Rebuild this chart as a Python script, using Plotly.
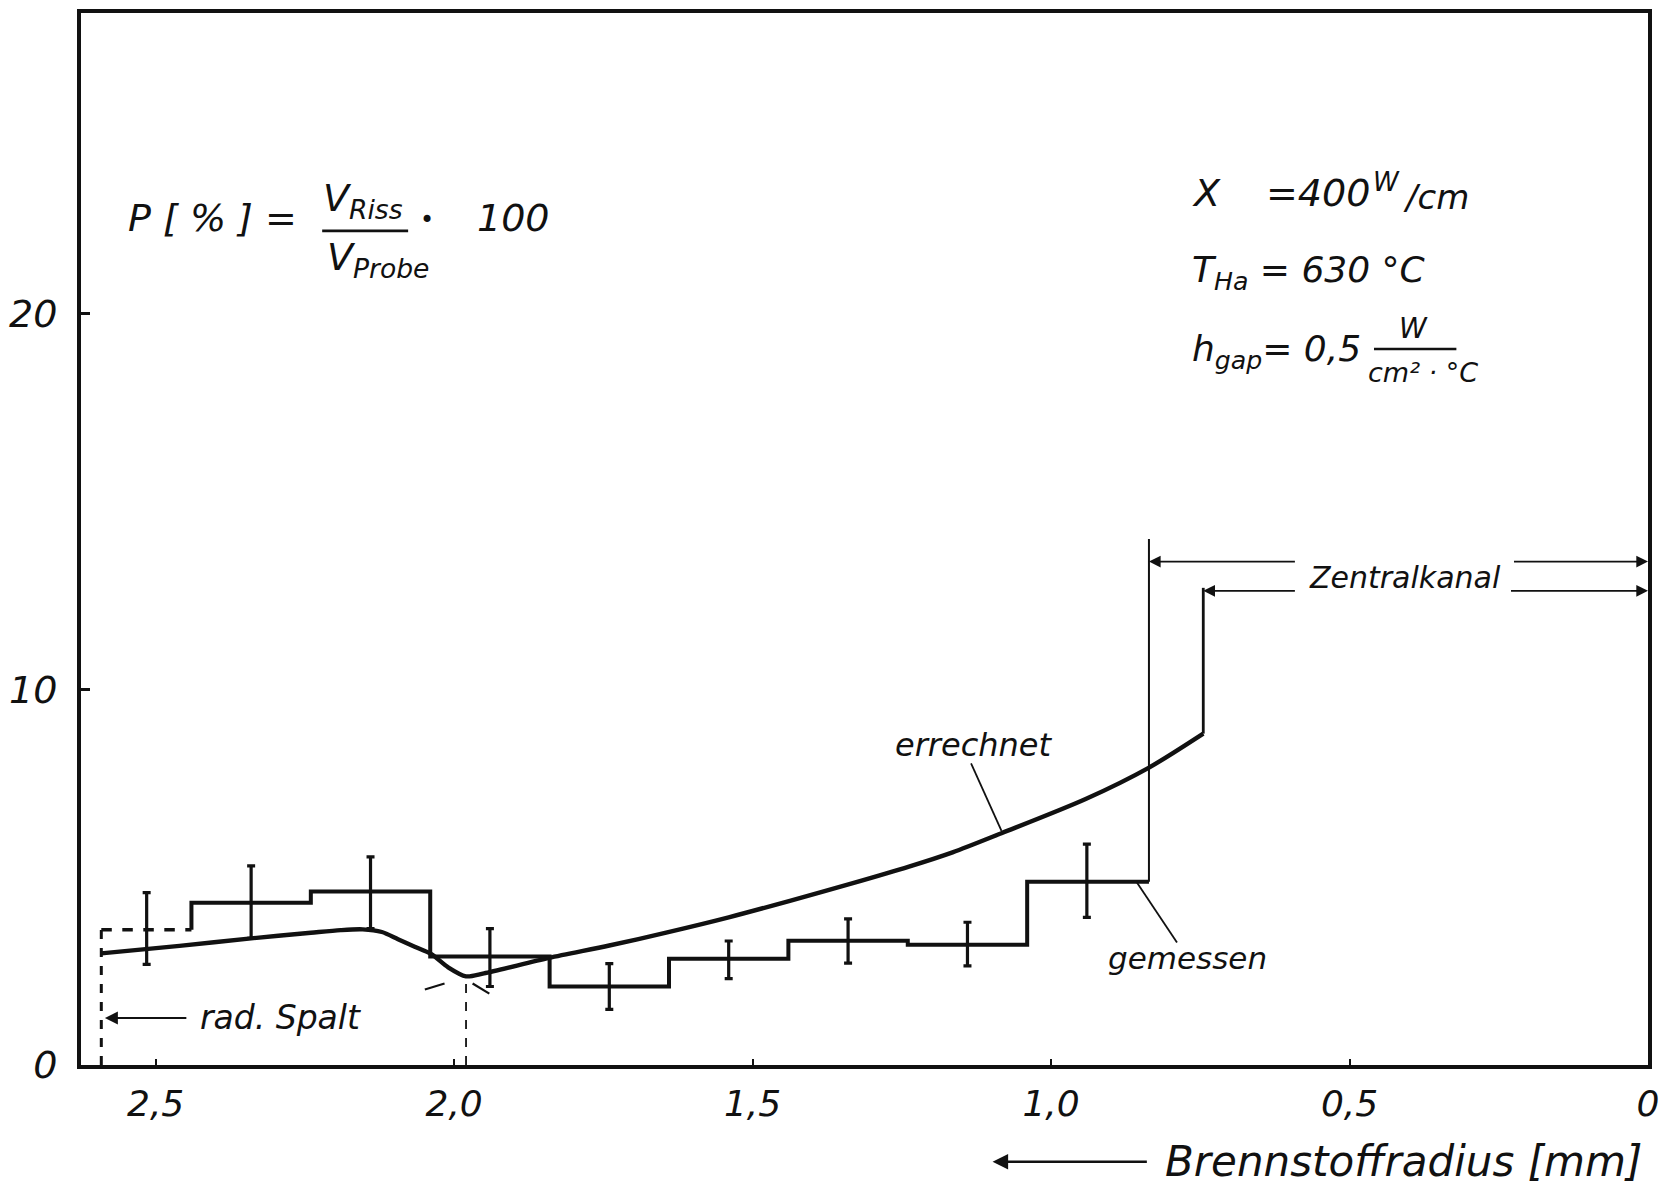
import plotly.graph_objects as go

# --- measured crack porosity (histogram over 0.2 mm radial rings) ---
gap_edge = 2.591           # outer fuel radius (radial gap)
bin_edges = [2.44, 2.24, 2.04, 1.84, 1.64, 1.44, 1.24, 1.04, 0.836]
measured = [4.32, 4.62, 2.89, 2.09, 2.83, 3.31, 3.2, 4.88]
outer_ring = 3.6           # dashed outermost ring

# error bars of the measurement
err_x = [2.515, 2.34, 2.14, 1.94, 1.74, 1.54, 1.34, 1.14, 0.94]
err_y = [3.635, 4.335, 4.585, 2.86, 2.09, 2.80, 3.30, 3.22, 4.905]
err_d = [0.955, 0.965, 0.955, 0.77, 0.61, 0.50, 0.59, 0.58, 0.975]

# --- calculated crack porosity ---
calc_x = [2.591, 2.46, 2.34, 2.24, 2.19, 2.153, 2.121, 2.094, 2.066, 2.038, 2.01, 1.98, 1.95,
          1.841, 1.74, 1.643, 1.54, 1.4375, 1.332, 1.238, 1.165, 1.083, 0.942, 0.8366, 0.745]
calc_y = [2.97, 3.17, 3.37, 3.52, 3.59, 3.61, 3.54, 3.35, 3.15, 2.95, 2.6, 2.36, 2.44,
          2.85, 3.18, 3.53, 3.93, 4.37, 4.84, 5.28, 5.66, 6.17, 7.08, 7.91, 8.82]

# central channel boundaries
channel_meas = 0.836
channel_calc = 0.745
channel_meas_top = 14.0
channel_calc_top = 12.7
channel_arrow_y = [13.4, 12.62]
min_r = 1.98

x_ticks = [2.5, 2.0, 1.5, 1.0, 0.5, 0.0]
x_labels = ["2,5", "2,0", "1,5", "1,0", "0,5", "0"]
y_ticks = [0, 10, 20]
y_labels = ["0", "10", "20"]

FONT = "DejaVu Sans"
INK = "#111111"

fig = go.Figure()

# dashed outermost ring and radial gap marker
fig.add_trace(go.Scatter(x=[gap_edge, bin_edges[0]], y=[outer_ring, outer_ring], mode="lines",
                         line=dict(color=INK, width=3.5, dash="dash")))
fig.add_trace(go.Scatter(x=[gap_edge, gap_edge], y=[0, outer_ring], mode="lines",
                         line=dict(color=INK, width=3, dash="dash")))

# measured histogram
hx = [bin_edges[0]] + bin_edges
hy = [outer_ring] + measured + [measured[-1]]
fig.add_trace(go.Scatter(x=hx, y=hy, mode="lines", line=dict(color=INK, width=4, shape="hv")))

# error bars
fig.add_trace(go.Scatter(x=err_x, y=err_y, mode="markers", marker=dict(size=1, color=INK),
                         error_y=dict(type="data", array=err_d, color=INK, thickness=3.2, width=4)))

# calculated curve
fig.add_trace(go.Scatter(x=calc_x, y=calc_y, mode="lines",
                         line=dict(color=INK, width=4.4, shape="spline", smoothing=0.8)))

# central channel verticals
fig.add_trace(go.Scatter(x=[channel_meas, channel_meas], y=[measured[-1], channel_meas_top], mode="lines",
                         line=dict(color=INK, width=2)))
fig.add_trace(go.Scatter(x=[channel_calc, channel_calc], y=[calc_y[-1], channel_calc_top], mode="lines",
                         line=dict(color=INK, width=2.8)))

# construction lines at the minimum of the calculated curve
fig.add_trace(go.Scatter(x=[min_r, min_r], y=[0, 2.3], mode="lines",
                         line=dict(color=INK, width=1.8, dash="dash")))
fig.add_trace(go.Scatter(x=[2.049, 2.016], y=[2.01, 2.17], mode="lines", line=dict(color=INK, width=2.2)))
fig.add_trace(go.Scatter(x=[1.969, 1.941], y=[2.17, 1.90], mode="lines", line=dict(color=INK, width=2.2)))

# leader lines for the labels
fig.add_trace(go.Scatter(x=[1.134, 1.083], y=[8.03, 6.23], mode="lines", line=dict(color=INK, width=1.8)))
fig.add_trace(go.Scatter(x=[0.857, 0.789], y=[4.88, 3.26], mode="lines", line=dict(color=INK, width=1.8)))

ann = []


def txt(x, y, s, size=30, anchor="center", xref="x", yref="y"):
    ann.append(dict(x=x, y=y, xref=xref, yref=yref, text=s, showarrow=False, xanchor=anchor,
                    yanchor="middle", font=dict(family=FONT, size=size, color=INK, style="italic")))


def arrow(x_head, y_head, x_tail, y_tail, yref="y", width=1.8):
    if yref == "paper":
        ayref, ay = "pixel", 0
    else:
        ayref, ay = yref, y_tail
    ann.append(dict(x=x_head, y=y_head, ax=x_tail, ay=ay, xref="x", yref=yref, axref="x",
                    ayref=ayref, text="", showarrow=True, arrowhead=2, arrowsize=1.3,
                    arrowwidth=width, arrowcolor=INK))


# formula
txt(2.55, 22.55, "P [ % ] =", 38, "left")
txt(2.152, 23.0, "V<sub>Riss</sub>", 38)
txt(2.128, 21.45, "V<sub>Probe</sub>", 38)
txt(2.045, 22.5, "•", 24)
txt(1.90, 22.55, "100", 38)

# operating conditions
txt(0.768, 23.2, "X", 38, "left")
txt(0.643, 23.2, "=400", 38, "left")
txt(0.438, 23.5, "W", 26)
txt(0.413, 23.1, "/cm", 34, "left")
txt(0.768, 21.08, "T<sub>Ha</sub> = 630 °C", 36, "left")
txt(0.768, 19.0, "h<sub>gap</sub>= 0,5", 36, "left")
txt(0.393, 19.6, "W", 28)
txt(0.377, 18.42, "cm² · °C", 27)

# labels
txt(1.129, 8.51, "errechnet", 32)
txt(0.771, 2.84, "gemessen", 31)
txt(0.407, 12.98, "Zentralkanal", 30)
txt(2.429, 1.27, "rad. Spalt", 33, "left")

# arrows
arrow(2.585, 1.25, 2.446, 1.25, width=2)
arrow(channel_meas, channel_arrow_y[0], 0.589, channel_arrow_y[0])
arrow(0.0, channel_arrow_y[0], 0.227, channel_arrow_y[0])
arrow(channel_calc, channel_arrow_y[1], 0.589, channel_arrow_y[1])
arrow(0.0, channel_arrow_y[1], 0.232, channel_arrow_y[1])

# axis title with direction arrow
arrow(1.098, -0.092, 0.837, -0.092, yref="paper", width=2.4)
txt(0.8125, -0.092, "Brennstoffradius [mm]", 42, "left", yref="paper")

# fraction bars
shapes = [
    dict(type="line", xref="x", yref="y", x0=2.221, x1=2.077, y0=22.2, y1=22.2,
         line=dict(color=INK, width=2.8)),
    dict(type="line", xref="x", yref="y", x0=0.459, x1=0.321, y0=19.06, y1=19.06,
         line=dict(color=INK, width=2.5)),
]

fig.update_layout(
    width=1678, height=1186,
    margin=dict(l=75, r=30, t=9, b=121),
    paper_bgcolor="white", plot_bgcolor="white",
    showlegend=False,
    annotations=ann,
    shapes=shapes,
    font=dict(family=FONT, color=INK),
)
fig.update_xaxes(range=[2.625, 0], tickvals=x_ticks, ticktext=x_labels, showgrid=False, zeroline=False,
                 showline=True, mirror=True, linewidth=4, linecolor=INK,
                 ticks="inside", ticklen=6, tickwidth=2, tickcolor=INK, ticklabelstandoff=4,
                 tickfont=dict(family=FONT, size=36, color=INK, style="italic"))
fig.update_yaxes(range=[0, 28], tickvals=y_ticks, ticktext=y_labels, showgrid=False, zeroline=False,
                 showline=True, mirror=True, linewidth=4, linecolor=INK,
                 ticks="inside", ticklen=9, tickwidth=2.5, tickcolor=INK, ticklabelstandoff=12,
                 tickfont=dict(family=FONT, size=38, color=INK, style="italic"))

fig.write_html("out.html")
